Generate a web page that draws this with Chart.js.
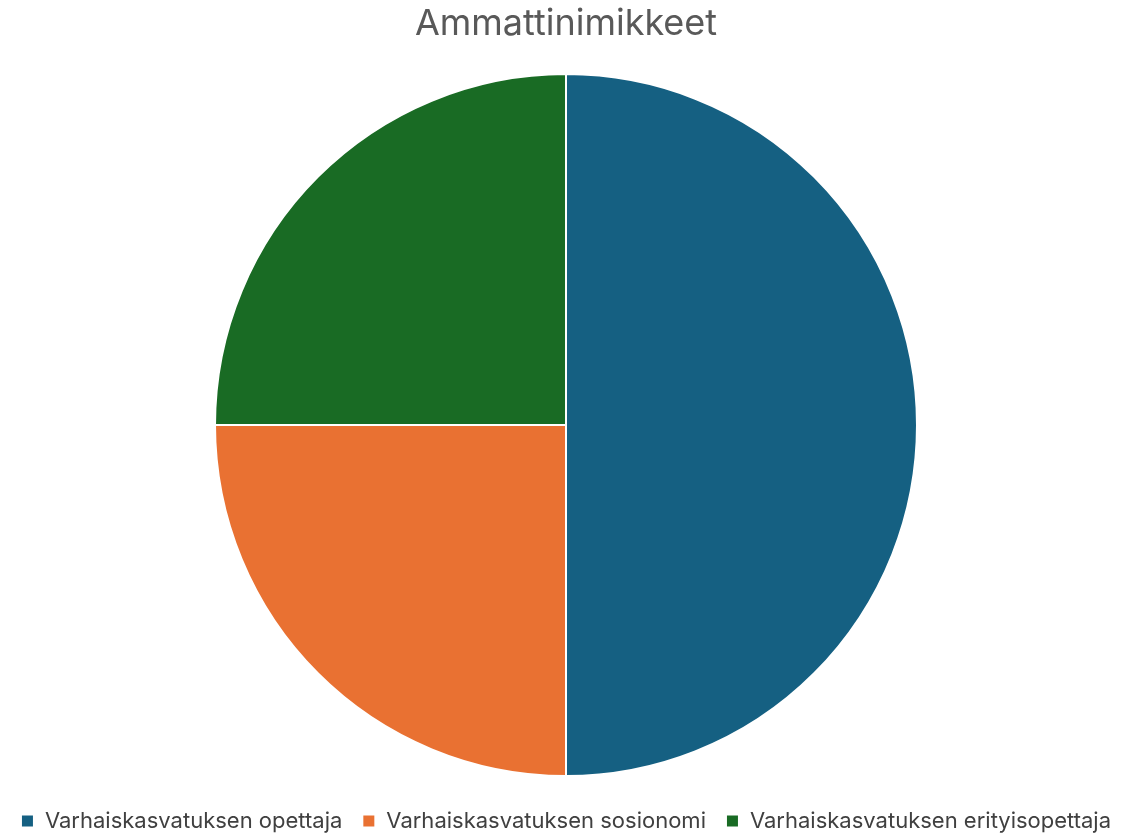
<!DOCTYPE html>
<html>
<head>
<meta charset="utf-8">
<script src="https://cdn.jsdelivr.net/npm/chart.js@4"></script>
<style>
  html, body { margin: 0; padding: 0; background: #fff; overflow: hidden; }
  #wrap { width: 1134px; height: 842px; }
</style>
</head>
<body>
<div id="wrap"><canvas id="pie"></canvas></div>
<script>
const TITLE = "Ammattinimikkeet";
const labels = [
  "Varhaiskasvatuksen opettaja",
  "Varhaiskasvatuksen sosionomi",
  "Varhaiskasvatuksen erityisopettaja",
];
const values = [2, 1, 1];
const colors = ["#156082", "#E97132", "#196B24"];

Chart.defaults.font.family = "Inter, 'Liberation Sans', Arial, sans-serif";
Chart.defaults.animation = false;
Chart.defaults.maintainAspectRatio = false;
Chart.defaults.responsive = true;

new Chart(document.getElementById("pie").getContext("2d"), {
  type: "pie",
  data: {
    labels,
    datasets: [{
      data: values,
      backgroundColor: colors,
      borderColor: "#ffffff",
      borderWidth: 2,
    }],
  },
  options: {
    radius: 351,
    layout: { padding: { left: 0, right: 2, top: 0, bottom: 0 } },
    plugins: {
      tooltip: { enabled: false },
      title: {
        display: true,
        text: TITLE,
        color: "#595959",
        font: { size: 36, weight: "normal" },
        padding: { top: 3, bottom: 14 },
      },
      legend: {
        position: "bottom",
        labels: {
          color: "#404040",
          font: { size: 22 },
          boxWidth: 13,
          boxHeight: 13,
          padding: 20,
        },
      },
    },
  },
});
</script>
</body>
</html>
